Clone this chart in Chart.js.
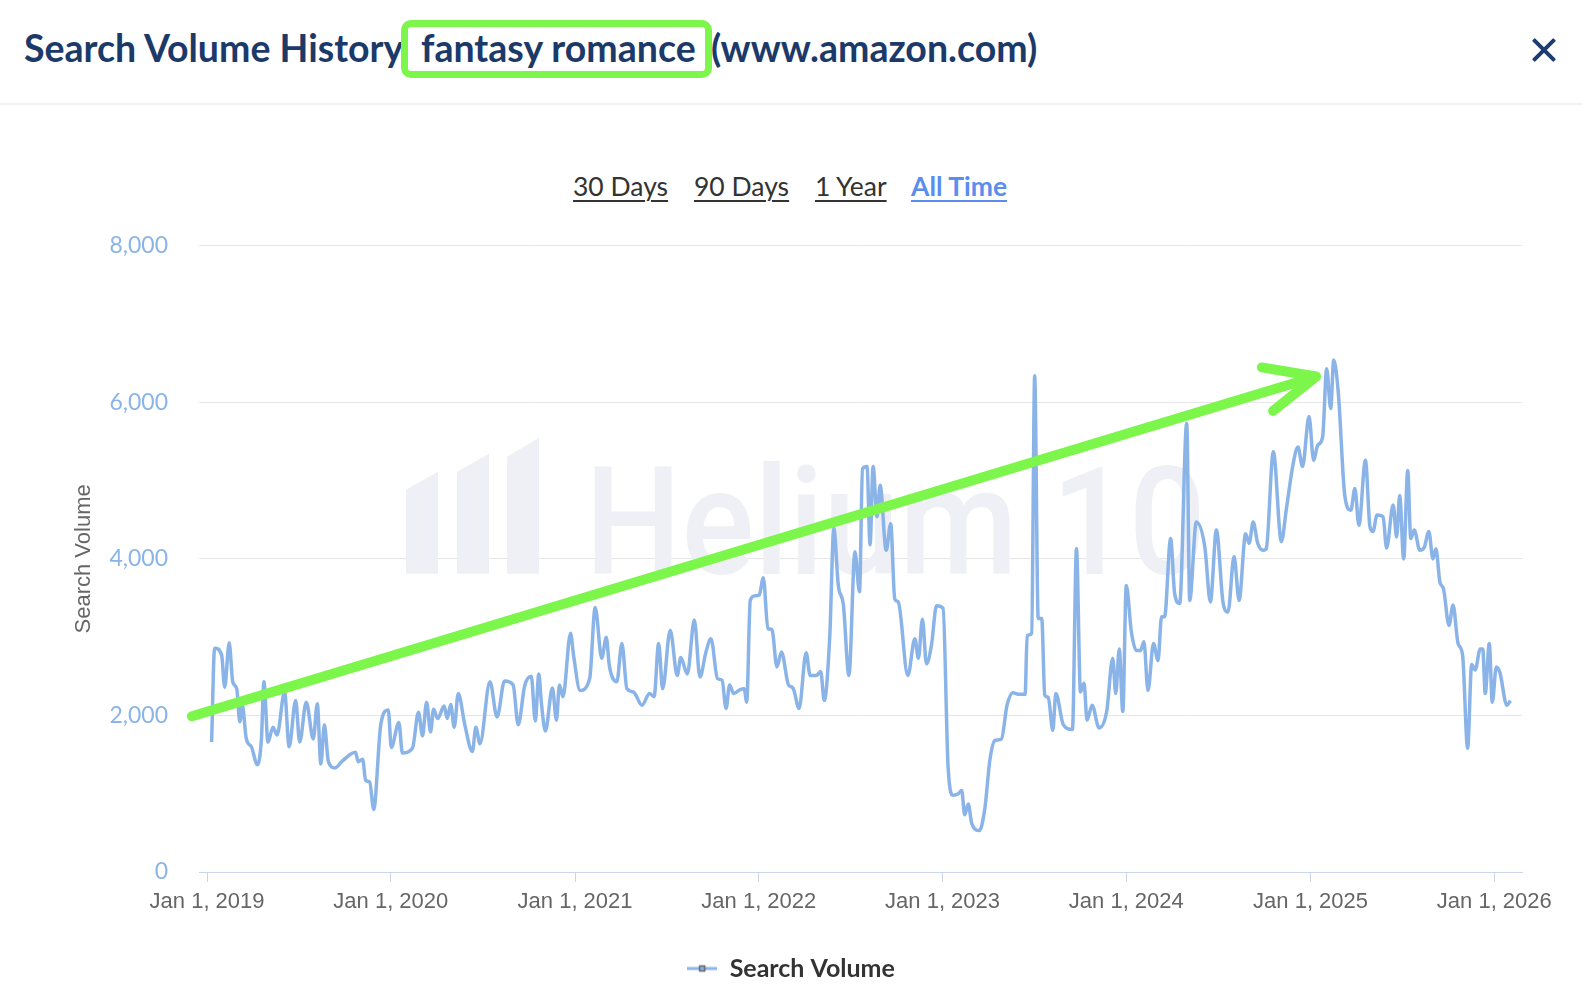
<!DOCTYPE html>
<html>
<head>
<meta charset="utf-8">
<script src="https://cdn.jsdelivr.net/npm/chart.js@4.4.1/dist/chart.umd.min.js"></script>
<style>
  body { margin: 0; width: 1582px; height: 1004px; background: #fff; position: relative; overflow: hidden; }
  .t { position: absolute; top: 25px; line-height: 54px; font: 700 37.5px Lato, sans-serif; color: #1c3a69; white-space: nowrap; }
  .kw { position: absolute; left: 401px; top: 20px; width: 311px; height: 58px; box-sizing: border-box;
        border: 7px solid #7cf64b; border-radius: 10px; }
  .close { position: absolute; left: 1529px; top: 35px; width: 30px; height: 30px; }
  .close::before, .close::after { content: ''; position: absolute; left: 0; top: 13px; width: 30px; height: 4px;
        background: #1e3d6f; border-radius: 1px; transform: rotate(45deg); }
  .close::after { transform: rotate(-45deg); }
  .sep { position: absolute; left: 0; top: 103px; width: 1582px; height: 2px; background: #eef2f6; }
  .range { position: absolute; top: 170px; line-height: 34px; font: 400 26.5px Lato, sans-serif; color: #333;
           text-decoration: underline; text-decoration-thickness: 2px; text-underline-offset: 4px; }
  .range.on { color: #5b8def; font-weight: 700; }
  canvas { position: absolute; left: 0; top: 201px; }
</style>
</head>
<body>
<div class="t" style="left:24px">Search Volume History</div>
<div class="kw"></div>
<div class="t" style="left:421px">fantasy romance</div>
<div class="t" style="left:711px">(www.amazon.com)</div>
<div class="close"></div>
<div class="sep"></div>
<div class="range" style="left:573px">30 Days</div>
<div class="range" style="left:694px">90 Days</div>
<div class="range" style="left:815px">1 Year</div>
<div class="range on" style="left:911px">All Time</div>
<canvas id="chart" width="1582" height="804"></canvas>
<script>
const dates = [
  '2019-01-10', '2019-01-16', '2019-01-30', '2019-02-05', '2019-02-14', '2019-02-21', '2019-03-01', '2019-03-07',
  '2019-03-12', '2019-03-20', '2019-03-30', '2019-04-11', '2019-04-19', '2019-04-24', '2019-05-02', '2019-05-12',
  '2019-05-20', '2019-06-04', '2019-06-13', '2019-06-26', '2019-07-04', '2019-07-17', '2019-07-31', '2019-08-08',
  '2019-08-15', '2019-08-22', '2019-08-30', '2019-09-12', '2019-09-27', '2019-10-23', '2019-10-28', '2019-11-06',
  '2019-11-12', '2019-11-20', '2019-11-28', '2019-12-12', '2019-12-27',
  '2020-01-02', '2020-01-17', '2020-01-24', '2020-02-13', '2020-02-25', '2020-03-04', '2020-03-12', '2020-03-20',
  '2020-03-26', '2020-04-03', '2020-04-16', '2020-04-22', '2020-04-29', '2020-05-06', '2020-05-14', '2020-05-27',
  '2020-06-11', '2020-06-18', '2020-06-26', '2020-07-16', '2020-07-30', '2020-08-14', '2020-08-31', '2020-09-10',
  '2020-09-23', '2020-10-06', '2020-10-14', '2020-10-21', '2020-10-26', '2020-11-03', '2020-11-17', '2020-11-25',
  '2020-12-01', '2020-12-08', '2020-12-23', '2020-12-29',
  '2021-01-11', '2021-01-30', '2021-02-10', '2021-02-23', '2021-03-04', '2021-03-10', '2021-03-25', '2021-04-04',
  '2021-04-14', '2021-04-27', '2021-05-14', '2021-05-29', '2021-06-07', '2021-06-16', '2021-06-24', '2021-07-09',
  '2021-07-23', '2021-07-30', '2021-08-12', '2021-08-26', '2021-09-06', '2021-09-18', '2021-09-28', '2021-10-11',
  '2021-10-20', '2021-10-28', '2021-11-04', '2021-11-12', '2021-11-25', '2021-12-03', '2021-12-08', '2021-12-15',
  '2021-12-25',
  '2022-01-02', '2022-01-10', '2022-01-19', '2022-01-27', '2022-02-06', '2022-02-15', '2022-03-01', '2022-03-10',
  '2022-03-22', '2022-04-05', '2022-04-13', '2022-04-25', '2022-05-04', '2022-05-11', '2022-05-22', '2022-05-30',
  '2022-06-08', '2022-06-18', '2022-06-29', '2022-07-11', '2022-07-20', '2022-07-26', '2022-08-04', '2022-08-10',
  '2022-08-16', '2022-08-24', '2022-08-30', '2022-09-11', '2022-09-20', '2022-09-28', '2022-10-05', '2022-10-24',
  '2022-11-07', '2022-11-14', '2022-11-22', '2022-11-30', '2022-12-10', '2022-12-20',
  '2023-01-02', '2023-01-12', '2023-01-22', '2023-02-01', '2023-02-08', '2023-02-14', '2023-02-21', '2023-02-28',
  '2023-03-15', '2023-03-26', '2023-04-05', '2023-04-15', '2023-04-28', '2023-05-09', '2023-05-21', '2023-06-02',
  '2023-06-14', '2023-06-18', '2023-06-27', '2023-07-03', '2023-07-10', '2023-07-17', '2023-07-23', '2023-07-30',
  '2023-08-08', '2023-08-14', '2023-08-29', '2023-09-16', '2023-09-24', '2023-10-02', '2023-10-09', '2023-10-15',
  '2023-10-25', '2023-11-08', '2023-11-23', '2023-12-05', '2023-12-11', '2023-12-18', '2023-12-25',
  '2024-01-01', '2024-01-11', '2024-01-21', '2024-01-29', '2024-02-05', '2024-02-13', '2024-02-24', '2024-03-04',
  '2024-03-11', '2024-03-17', '2024-03-29', '2024-04-06', '2024-04-16', '2024-04-30', '2024-05-06', '2024-05-19',
  '2024-06-05', '2024-06-16', '2024-06-28', '2024-07-11', '2024-07-21', '2024-08-02', '2024-08-12', '2024-08-25',
  '2024-09-01', '2024-09-09', '2024-09-18', '2024-09-29', '2024-10-05', '2024-10-19', '2024-11-04', '2024-11-14',
  '2024-11-27', '2024-12-07', '2024-12-16', '2024-12-29',
  '2025-01-07', '2025-01-15', '2025-01-25', '2025-02-02', '2025-02-10', '2025-02-16', '2025-02-25', '2025-03-10',
  '2025-03-22', '2025-03-30', '2025-04-07', '2025-04-20', '2025-04-29', '2025-05-05', '2025-05-13', '2025-05-25',
  '2025-06-01', '2025-06-14', '2025-06-21', '2025-06-27', '2025-07-05', '2025-07-13', '2025-07-19', '2025-07-26',
  '2025-08-06', '2025-08-15', '2025-08-24', '2025-09-01', '2025-09-07', '2025-09-15', '2025-09-22', '2025-10-03',
  '2025-10-11', '2025-10-21', '2025-10-30', '2025-11-09', '2025-11-17', '2025-11-24', '2025-12-04', '2025-12-09',
  '2025-12-14', '2025-12-22', '2025-12-28',
  '2026-01-05', '2026-01-12', '2026-01-26', '2026-02-02',
];

const searchVolume = [
  1660, 2860, 2770, 2360, 2930, 2430, 2340, 1920,
  2130, 1700, 1600, 1370, 1700, 2430, 1660, 1850,
  1750, 2300, 1600, 2190, 1660, 2170, 1700, 2150,
  1380, 1880, 1410, 1330, 1420, 1530, 1410, 1440,
  1170, 1150, 800, 1880, 2070,
  1590, 1910, 1520, 1580, 2040, 1740, 2170, 1790,
  2080, 1960, 2120, 1960, 2140, 1850, 2280, 1880,
  1540, 1850, 1640, 2430, 1980, 2440, 2390, 1880,
  2380, 2500, 1930, 2530, 2170, 1800, 2350, 1940,
  2390, 2240, 3050, 2770,
  2320, 2470, 3380, 2730, 3000, 2640, 2430, 2920,
  2340, 2300, 2130, 2280, 2240, 2920, 2340, 3090,
  2510, 2740, 2530, 3220, 2490, 2810, 2980, 2470,
  2450, 2090, 2390, 2280, 2330, 2340, 2170, 3470,
  3530,
  3540, 3760, 3110, 3100, 2620, 2810, 2390, 2350,
  2090, 2800, 2510, 2510, 2560, 2190, 3020, 4390,
  3660, 3410, 2510, 4090, 3580, 5150, 5180, 4180,
  5180, 4540, 4940, 4110, 4450, 3490, 3450, 2510,
  2980, 2730, 3230, 2660, 2900, 3400,
  3370, 1340, 980, 1000, 1040, 730, 870, 620,
  530, 810, 1430, 1680, 1700, 2130, 2290, 2270,
  2270, 3020, 3050, 6340, 3240, 3240, 2260, 2230,
  1810, 2280, 1880, 1820, 4130, 2300, 2410, 1940,
  2130, 1840, 2050, 2730, 2280, 2850, 2050,
  3660, 3070, 2830, 2830, 2940, 2320, 2920, 2700,
  3260, 3260, 4260, 3560, 3430, 5730, 3470, 4470,
  4150, 3450, 4370, 3450, 3320, 4030, 3470, 4320,
  4200, 4470, 4200, 4110, 4130, 5370, 4220, 4640,
  5200, 5430, 5180, 5820,
  5260, 5450, 5560, 6430, 5920, 6540, 6130, 4810,
  4620, 4900, 4430, 5260, 4410, 4350, 4560, 4540,
  4140, 4690, 4280, 4810, 4000, 5130, 4260, 4370,
  4110, 4150, 4350, 4000, 4130, 3700, 3620, 3150,
  3410, 2920, 2770, 1580, 2650, 2580, 2850, 2850,
  2280, 2920, 2170,
  2620, 2550, 2130, 2190,
];

const tickDates = ['2019-01-01', '2020-01-01', '2021-01-01', '2022-01-01', '2023-01-01', '2024-01-01', '2025-01-01', '2026-01-01'];
const tickLabels = ['Jan 1, 2019', 'Jan 1, 2020', 'Jan 1, 2021', 'Jan 1, 2022', 'Jan 1, 2023', 'Jan 1, 2024', 'Jan 1, 2025', 'Jan 1, 2026'];

// green trend arrow drawn over the chart: [date, value] of tail and head
const arrowFrom = ['2018-12-02', 1990];
const arrowTo = ['2025-01-12', 6330];

const lineColor = '#8ab4e8';
const green = '#7cf64b';

const legendIcon = document.createElement('canvas');
legendIcon.width = 30;
legendIcon.height = 12;
const ic = legendIcon.getContext('2d');
ic.strokeStyle = lineColor;
ic.lineWidth = 3;
ic.beginPath();
ic.moveTo(0, 6);
ic.lineTo(30, 6);
ic.stroke();
ic.fillStyle = lineColor;
ic.fillRect(12, 3, 6, 6);
ic.strokeStyle = '#666';
ic.lineWidth = 1.5;
ic.strokeRect(12.5, 3.5, 5, 5);

const watermark = {
  id: 'watermark',
  beforeDatasetsDraw(chart) {
    const { ctx, chartArea } = chart;
    const x0 = chartArea.left;
    const y0 = chartArea.top;
    ctx.save();
    ctx.fillStyle = '#eef0f5';
    const bars = [[207, 32, 244, 226], [258, 32, 226, 208], [308, 32, 211, 192]];
    bars.forEach(([bx, bw, tl, tr]) => {
      ctx.beginPath();
      ctx.moveTo(x0 + bx, y0 + 328);
      ctx.lineTo(x0 + bx, y0 + tl);
      ctx.lineTo(x0 + bx + bw, y0 + tr);
      ctx.lineTo(x0 + bx + bw, y0 + 328);
      ctx.closePath();
      ctx.fill();
    });
    ctx.font = '500 150px Roboto';
    ctx.textBaseline = 'alphabetic';
    ctx.textAlign = 'left';
    const w = ctx.measureText('Helium 10').width;
    ctx.translate(x0 + 386, y0 + 328);
    ctx.scale(621 / w, 1);
    ctx.fillText('Helium 10', 0, 0);
    ctx.restore();
  },
};

const trendArrow = {
  id: 'trendArrow',
  afterDraw(chart) {
    const { ctx, scales } = chart;
    const x1 = scales.x.getPixelForValue(Date.parse(arrowFrom[0]));
    const y1 = scales.y.getPixelForValue(arrowFrom[1]);
    const x2 = scales.x.getPixelForValue(Date.parse(arrowTo[0]));
    const y2 = scales.y.getPixelForValue(arrowTo[1]);
    const ang = Math.atan2(y2 - y1, x2 - x1);
    const head = 55;
    ctx.save();
    ctx.strokeStyle = green;
    ctx.lineWidth = 10;
    ctx.lineCap = 'round';
    ctx.lineJoin = 'round';
    ctx.beginPath();
    ctx.moveTo(x1, y1);
    ctx.lineTo(x2, y2);
    ctx.moveTo(x2 + head * Math.cos(ang + Math.PI - 0.38), y2 + head * Math.sin(ang + Math.PI - 0.38));
    ctx.lineTo(x2, y2);
    ctx.lineTo(x2 + head * Math.cos(ang + Math.PI + 0.46), y2 + head * Math.sin(ang + Math.PI + 0.46));
    ctx.stroke();
    ctx.restore();
  },
};

const points = dates.map((d, i) => ({ x: Date.parse(d), y: searchVolume[i] }));

new Chart(document.getElementById('chart'), {
  type: 'line',
  data: {
    datasets: [
      {
        label: 'Search Volume',
        data: points,
        borderColor: lineColor,
        backgroundColor: lineColor,
        borderWidth: 3.5,
        pointRadius: 0,
        cubicInterpolationMode: 'monotone',
        fill: false,
      },
    ],
  },
  options: {
    responsive: false,
    animation: false,
    layout: { padding: { top: 25, right: 60, left: 60, bottom: 14 } },
    scales: {
      x: {
        type: 'linear',
        min: Date.parse('2018-12-16'),
        max: Date.parse('2026-02-25'),
        afterBuildTicks: scale => {
          scale.ticks = tickDates.map(d => ({ value: Date.parse(d) }));
        },
        afterFit: scale => {
          scale.height = 74;
        },
        ticks: {
          autoSkip: false,
          maxRotation: 0,
          padding: 7,
          color: '#666',
          font: { family: 'Liberation Sans', size: 22 },
          callback: (value, i) => tickLabels[i],
        },
        grid: { drawOnChartArea: false, drawTicks: true, tickLength: 10, color: '#ccd6eb' },
        border: { color: '#ccd6eb', width: 1 },
      },
      y: {
        min: 0,
        max: 8000,
        afterFit: scale => {
          scale.width = 139;
        },
        ticks: {
          stepSize: 2000,
          padding: 31,
          color: '#8ab4e8',
          font: { family: 'Lato', size: 23 },
          callback: value => value.toLocaleString('en-US'),
        },
        grid: {
          drawTicks: false,
          color: c => (c.tick.value === 0 ? 'rgba(0,0,0,0)' : '#e6e6e6'),
        },
        border: { display: false },
        title: {
          display: true,
          text: 'Search Volume',
          color: '#666',
          font: { family: 'Liberation Sans', size: 22 },
          padding: { top: 11, bottom: 0 },
        },
      },
    },
    plugins: {
      legend: {
        position: 'bottom',
        labels: {
          usePointStyle: true,
          pointStyle: legendIcon,
          pointStyleWidth: 30,
          boxHeight: 12,
          padding: 10,
          color: '#333',
          font: { family: 'Lato', size: 25, weight: 'bold' },
        },
      },
      tooltip: { enabled: false },
    },
  },
  plugins: [watermark, trendArrow],
});
</script>
</body>
</html>
